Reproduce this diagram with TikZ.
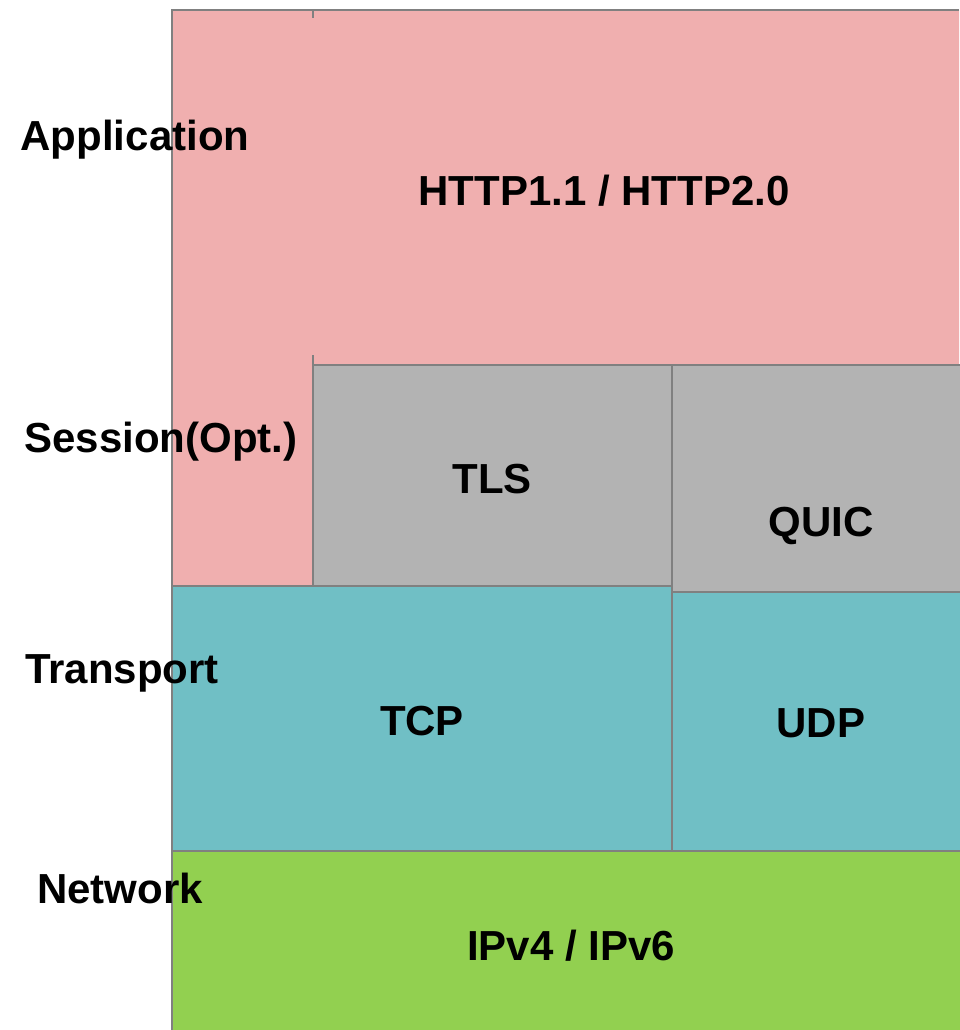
\documentclass[tikz,border=0pt]{standalone}
\usepackage{fontspec}
\setmainfont{Liberation Sans}
\definecolor{pinkfill}{HTML}{F0AFAF}
\definecolor{grayfill}{HTML}{B3B3B3}
\definecolor{tealfill}{HTML}{70BFC5}
\definecolor{greenfill}{HTML}{92D050}
\definecolor{edge}{HTML}{808080}
\begin{document}
\begin{tikzpicture}[x=1pt,y=-1pt,
  edgeline/.style={draw=edge, line width=1.3pt},
  lbl/.style={font=\bfseries\fontsize{42}{50}\selectfont, inner sep=0pt, anchor=base, text=black}]
\useasboundingbox[fill=white] (0,0) rectangle (959,1030);
% Application (L-shape)
\fill[pinkfill] (172,10) -- (959,10) -- (959,365) -- (313,365) -- (313,586) -- (172,586) -- cycle;
\draw[edgeline] (172,1030) -- (172,10) -- (959,10);
\draw[edgeline] (313,10) -- (313,18);
\draw[edgeline] (313,355) -- (313,365);
% TLS
\filldraw[fill=grayfill, edgeline] (313,365) rectangle (672,586);
% QUIC
\filldraw[fill=grayfill, edgeline] (672,365) rectangle (961,592);
% TCP
\filldraw[fill=tealfill, edgeline] (172,586) rectangle (672,851);
% UDP
\filldraw[fill=tealfill, edgeline] (672,592) rectangle (961,851);
% Network
\filldraw[fill=greenfill, edgeline] (172,851) rectangle (961,1032);
% labels
\node[lbl] (app) at (135,150) {Application};
\node[lbl] (http) at (604,205) {HTTP1.1 / HTTP2.0};
\node[lbl] (sess) at (161,452) {Session(Opt.)};
\node[lbl] (tls) at (492,493) {TLS};
\node[lbl] (quic) at (821,536) {QUIC};
\node[lbl] (trans) at (122,683) {Transport};
\node[lbl] (tcp) at (422,735) {TCP};
\node[lbl] (udp) at (821,737) {UDP};
\node[lbl] (net) at (120,903) {Network};
\node[lbl] (ip) at (571,960) {IPv4 / IPv6};
\end{tikzpicture}
\end{document}
